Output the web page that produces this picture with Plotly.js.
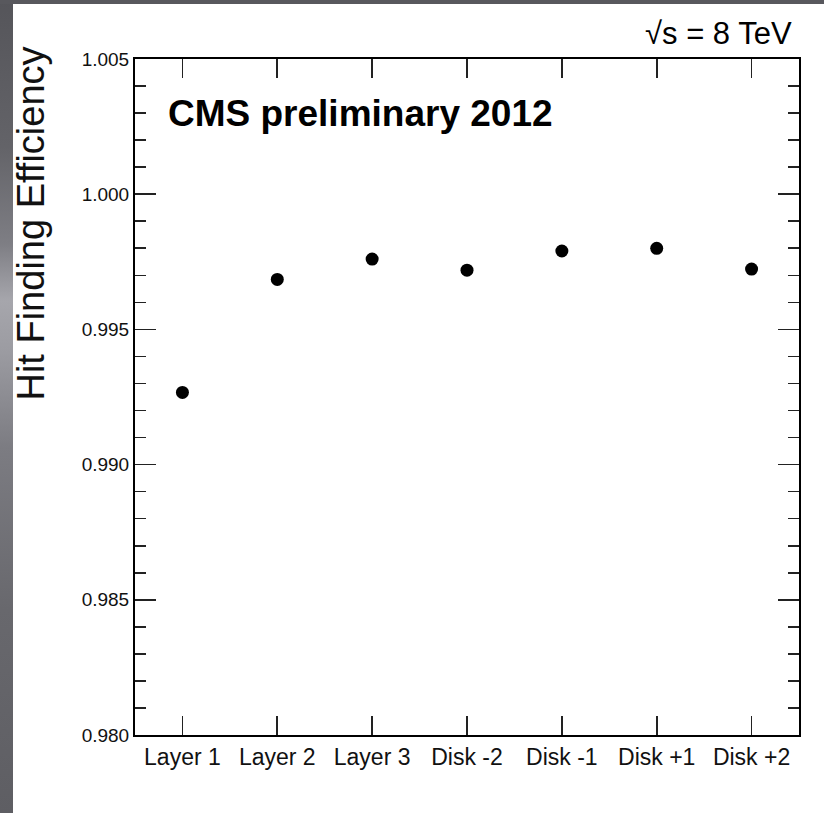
<!DOCTYPE html>
<html>
<head>
<meta charset="utf-8">
<script src="https://cdn.plot.ly/plotly-3.0.1.min.js"></script>
<style>
  html, body { margin: 0; padding: 0; }
  body {
    width: 824px; height: 813px; position: relative; overflow: hidden;
    background: linear-gradient(to bottom, #55555a 0%, #636368 18%, #7e7e84 30%, #a6a6ac 37%, #9c9ca2 43%, #7c7c82 55%, #68686d 75%, #5e5e63 100%);
  }
  #sheet { position: absolute; left: 13px; top: 4px; right: 0; bottom: 0; background: #ffffff; }
  #topbar { position: absolute; left: 0; top: 0; right: 0; height: 4px; background: #58585d; }
  #chart { position: absolute; left: 0; top: 0; width: 824px; height: 813px; }
</style>
</head>
<body>
<div id="topbar"></div>
<div id="sheet"></div>
<div id="chart"></div>
<script>
// Pixel detector regions and their measured hit finding efficiency
const regions = ["Layer 1", "Layer 2", "Layer 3", "Disk -2", "Disk -1", "Disk +1", "Disk +2"];
const efficiency = [0.99267, 0.99685, 0.99760, 0.99719, 0.99790, 0.99800, 0.99723];
const yTickValues = [0.980, 0.985, 0.990, 0.995, 1.000, 1.005];
const yTickLabels = ["0.980", "0.985", "0.990", "0.995", "1.000", "1.005"];

const font = "Liberation Sans, Arial, Helvetica, sans-serif";

const trace = {
  type: "scatter",
  mode: "markers",
  x: regions,
  y: efficiency,
  marker: { color: "#000000", size: 13, symbol: "circle" },
  hoverinfo: "x+y"
};

const layout = {
  width: 824,
  height: 813,
  margin: { l: 135, r: 25, t: 59, b: 78 },
  paper_bgcolor: "rgba(0,0,0,0)",
  plot_bgcolor: "#ffffff",
  showlegend: false,
  font: { family: font, color: "#000000" },
  xaxis: {
    type: "category",
    range: [-0.5, 6.5],
    showgrid: false,
    zeroline: false,
    showline: true,
    linecolor: "#000000",
    linewidth: 2,
    mirror: "allticks",
    ticks: "inside",
    ticklen: 19,
    tickwidth: 1.6,
    tickcolor: "#222222",
    tickfont: { family: font, size: 23, color: "#111111" },
    fixedrange: true
  },
  yaxis: {
    range: [0.980, 1.005],
    tickvals: yTickValues,
    ticktext: yTickLabels,
    showgrid: false,
    zeroline: false,
    showline: true,
    linecolor: "#000000",
    linewidth: 2,
    mirror: "allticks",
    ticks: "inside",
    ticklen: 21,
    tickwidth: 1.6,
    tickcolor: "#222222",
    tickfont: { family: font, size: 19, color: "#111111" },
    minor: { ticks: "inside", ticklen: 11, tickwidth: 1.6, tickcolor: "#222222", dtick: 0.001, showgrid: false },
    fixedrange: true
  },
  annotations: [
    {
      // axis title, placed against the top end of the y axis
      xref: "paper", yref: "paper", x: -0.156, y: 1.022, xanchor: "center", yanchor: "top",
      text: "Hit Finding Efficiency", textangle: -90, showarrow: false,
      font: { family: font, size: 38, color: "#111111" }
    },
    {
      xref: "paper", yref: "paper", x: 0.046, y: 0.92, xanchor: "left", yanchor: "middle",
      text: "<b>CMS preliminary 2012</b>", showarrow: false,
      font: { family: font, size: 37, color: "#000000" }
    },
    {
      xref: "paper", yref: "paper", x: 0.992, y: 1.038, xanchor: "right", yanchor: "middle",
      text: "\u221As = 8 TeV", showarrow: false,
      font: { family: font, size: 31, color: "#000000" }
    }
  ]
};

Plotly.newPlot("chart", [trace], layout, { displayModeBar: false, staticPlot: true });
</script>
</body>
</html>
